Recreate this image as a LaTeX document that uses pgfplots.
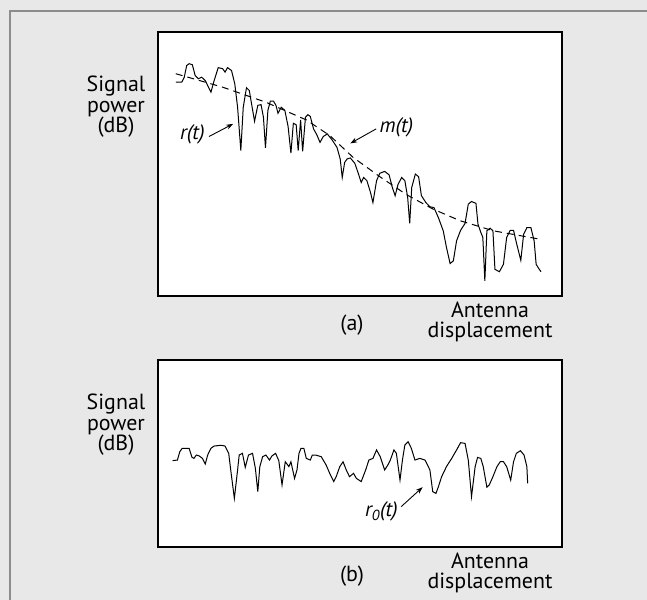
\documentclass[border=0pt]{standalone}
\usepackage{fontspec}
\setmainfont{PT Sans}
\usepackage{pgfplots}
\pgfplotsset{compat=1.18}
\usetikzlibrary{arrows.meta}

\pgfplotstableread{
u v
4.4 81.0
5.9 81.0
6.5 82.9
7.1 87.3
7.7 88.0
8.5 87.6
9.2 83.5
10.0 82.3
10.8 82.9
11.7 81.6
13.1 77.2
13.9 81.6
14.9 86.5
16.0 86.1
16.6 84.8
17.2 86.5
18.2 85.4
19.0 80.4
19.7 71.5
20.5 55.1
21.1 71.5
21.9 78.9
22.6 77.8
23.3 71.5
23.9 66.2
24.7 72.2
25.5 72.5
26.1 67.7
26.6 56.1
27.2 70.3
27.8 73.8
28.6 73.8
29.2 72.2
29.7 69.2
30.5 71.5
31.4 70.3
32.2 64.2
32.9 54.1
33.5 65.4
34.2 64.9
34.7 55.1
35.3 66.7
35.8 54.8
36.5 67.7
37.1 68.7
37.7 68.0
38.5 63.3
39.3 61.1
40.1 58.2
40.9 60.4
41.9 61.4
43.1 59.1
44.3 56.3
45.1 51.9
45.6 44.9
46.2 50.6
46.8 51.9
47.6 52.3
48.7 50.3
49.5 46.8
50.3 43.0
50.9 44.9
51.7 43.7
52.6 39.2
53.2 35.4
54.1 43.7
54.9 46.5
56.1 47.2
57.2 45.9
58.0 41.1
58.7 38.0
59.4 42.2
60.3 44.9
61.1 43.7
61.8 37.3
62.3 27.5
62.8 41.1
63.7 46.2
64.5 45.2
65.2 38.0
66.3 35.4
67.3 33.8
68.3 33.5
69.4 29.7
70.6 24.7
71.4 18.4
72.3 12.3
73.1 13.3
73.9 20.9
74.9 24.9
76.0 27.5
76.8 34.8
77.6 35.8
78.7 35.1
79.2 27.2
79.9 24.1
80.4 22.2
80.9 5.7
81.4 24.7
82.2 25.7
82.9 24.7
83.4 10.1
84.5 9.2
85.5 12.0
86.3 22.2
87.2 24.9
88.0 24.9
88.8 19.6
89.8 13.5
90.5 23.4
91.3 25.9
92.3 25.9
93.1 20.9
93.6 12.0
94.2 10.5
94.8 9.2
}\rdata

\pgfplotstableread{
u v
4.4 84.2
16.0 79.1
26.7 73.4
36.7 66.7
42.5 60.8
48.3 52.5
54.9 45.2
61.5 38.4
68.1 32.9
74.8 28.5
83.0 24.7
94.6 21.5
}\mdata

\pgfplotstableread{
u v
3.6 46.2
4.8 46.5
5.4 51.0
6.0 52.8
7.7 52.8
8.4 48.0
8.9 47.4
9.5 49.2
10.2 48.7
11.0 47.4
11.7 44.4
12.3 49.2
13.1 52.8
13.9 54.0
15.6 54.4
16.6 54.0
17.5 50.1
18.0 41.2
18.9 26.0
19.7 41.2
20.1 49.2
20.9 50.1
21.6 42.6
22.4 49.2
23.4 50.1
24.1 42.1
24.7 29.6
25.2 43.0
25.9 48.3
26.7 49.2
27.6 46.5
28.2 48.7
29.1 50.1
29.9 46.2
30.7 33.2
31.5 45.6
32.4 43.0
32.9 45.6
33.8 36.7
34.4 41.2
34.9 50.1
35.4 52.8
36.1 52.8
36.7 47.4
37.7 46.5
38.2 49.2
39.0 49.2
40.4 48.3
41.6 43.9
42.5 39.4
43.5 35.0
44.1 37.6
45.0 43.0
45.8 45.6
46.6 41.2
47.4 37.6
48.4 39.4
49.1 36.7
50.3 35.0
51.4 41.2
52.2 46.5
53.2 47.4
54.1 51.9
55.0 48.3
56.1 41.2
56.9 43.9
57.5 46.5
58.4 51.9
59.0 50.1
59.9 35.8
60.5 46.5
61.1 54.5
61.9 56.3
62.7 52.8
63.6 46.5
64.8 47.4
66.1 46.5
67.3 41.2
68.0 29.6
68.8 28.7
69.4 32.2
70.2 37.6
71.4 43.0
72.7 47.4
73.9 51.9
74.9 55.8
76.0 55.4
76.8 46.5
77.6 26.9
78.5 43.0
79.1 47.9
79.9 47.4
80.5 43.0
81.4 32.0
82.0 33.2
82.9 37.6
83.9 43.0
84.7 45.6
85.5 45.6
86.3 43.0
87.3 35.8
88.0 45.6
88.7 50.1
89.7 51.5
90.6 49.2
91.3 43.0
91.5 34.0
}\rzdata

\begin{document}
\begin{tikzpicture}[x=1bp,y=1bp]
\useasboundingbox (0,0) rectangle (647,-600);
\fill[black!9] (0,0) rectangle (647,-600);
\draw[black!45, line width=1.6bp] (10,-600) -- (10,-11) -- (647,-11);

\pgfplotsset{
  panel/.style={
    scale only axis, width=404bp,
    xmin=0, xmax=100, ymin=0, ymax=100,
    axis line style={line width=1.6bp},
    xtick=\empty, ytick=\empty,
    axis background/.style={fill=white},
    clip=false,
  }
}

% panel (a)
\begin{axis}[panel, at={(158bp,-296bp)}, anchor=south west, height=264bp]
\addplot[black, line width=1bp] table[x=u,y=v] {\rdata};
\addplot[black, line width=1bp, dash pattern=on 7bp off 5bp] table[x=u,y=v] {\mdata};
\node[font=\fontsize{21}{23}\selectfont\itshape] at (axis cs:8.5,61.4) {r(t)};
\draw[-{Stealth[length=7bp,width=5bp]}, line width=0.9bp] (axis cs:12.6,60.4) -- (axis cs:18.6,65.2);
\node[font=\fontsize{21}{23}\selectfont\itshape] at (axis cs:59.0,63.9) {m(t)};
\draw[-{Stealth[length=7bp,width=5bp]}, line width=0.9bp] (axis cs:54.0,63.3) -- (axis cs:47.6,57.8);
\end{axis}

% panel (b)
\begin{axis}[panel, at={(158bp,-547bp)}, anchor=south west, height=187bp]
\addplot[black, line width=1bp] table[x=u,y=v] {\rzdata};
\node[font=\fontsize{21}{23}\selectfont\itshape] at (axis cs:55.3,18.9) {r\textsubscript{0}(t)};
\draw[-{Stealth[length=7bp,width=5bp]}, line width=0.9bp] (axis cs:60.2,21.6) -- (axis cs:65.5,32.0);
\end{axis}

\tikzset{lab/.style={font=\fontsize{22}{20.5}\selectfont, align=center, inner sep=0pt}}
\node[lab] at (116,-107) {Signal\\power\\(dB)};
\node[lab] at (116,-425) {Signal\\power\\(dB)};
\node[lab] at (352,-325) {(a)};
\node[lab] at (490,-322) {Antenna\\displacement};
\node[lab] at (352,-576) {(b)};
\node[lab] at (490,-573) {Antenna\\displacement};
\end{tikzpicture}
\end{document}
